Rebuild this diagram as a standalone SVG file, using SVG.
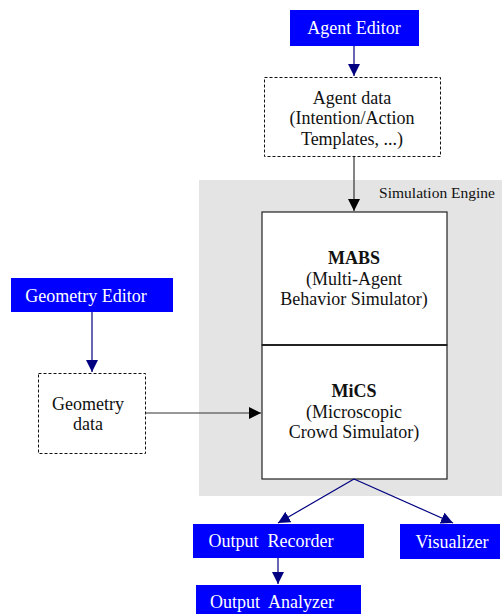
<svg xmlns="http://www.w3.org/2000/svg" width="502" height="614" viewBox="0 0 502 614" font-family="'Liberation Serif', 'DejaVu Serif', serif">
<defs>
<style>
text{font-family:'Liberation Serif','DejaVu Serif',serif;font-size:18px;text-anchor:middle;fill:#111;white-space:pre}
.tool rect{fill:#0000ff}
.tool text{fill:#fff}
.data rect{fill:#fff;stroke:#111;stroke-width:1;stroke-dasharray:3,2}
.eng rect{fill:#fff;stroke:#222;stroke-width:1.2}
.blue{stroke:#000080;stroke-width:1.2;fill:none}
.blk{stroke:#333;stroke-width:1.2;fill:none}
</style>
<marker id="ab" viewBox="0 0 10 10" refX="10" refY="5" markerWidth="12" markerHeight="12" markerUnits="userSpaceOnUse" orient="auto"><path d="M0,0L10,5L0,10z" fill="#000080"/></marker>
<marker id="ak" viewBox="0 0 10 10" refX="10" refY="5" markerWidth="12" markerHeight="12" markerUnits="userSpaceOnUse" orient="auto"><path d="M0,0L10,5L0,10z" fill="#000"/></marker>
</defs>
<rect id="engine-bg" x="199" y="180" width="303" height="316" fill="#e4e4e4"/>
<text x="437" y="198" style="font-size:15.5px">Simulation Engine</text>
<g id="agent-editor" class="tool"><rect x="290" y="10" width="129" height="36"/><text x="354" y="34">Agent Editor</text></g>
<g id="agent-data" class="data"><rect x="264.5" y="77.5" width="176" height="79"/><text x="352" y="104">Agent data</text><text x="352" y="124">(Intention/Action</text><text x="352" y="145">Templates, ...)</text></g>
<g id="mabs" class="eng"><rect x="262" y="212" width="185" height="133"/><text x="354" y="264" style="font-weight:bold">MABS</text><text x="354" y="285">(Multi-Agent</text><text x="354" y="305">Behavior Simulator)</text></g>
<g id="mics" class="eng"><rect x="262" y="345" width="185" height="134"/><text x="354" y="397" style="font-weight:bold">MiCS</text><text x="354" y="418">(Microscopic</text><text x="354" y="438">Crowd Simulator)</text></g>
<line x1="262" y1="345" x2="447" y2="345" stroke="#222" stroke-width="2"/>
<g id="geometry-editor" class="tool"><rect x="11" y="278" width="162" height="34"/><text x="86" y="302">Geometry Editor</text></g>
<g id="geometry-data" class="data"><rect x="38.5" y="373.5" width="107" height="80"/><text x="88" y="410">Geometry</text><text x="88" y="430">data</text></g>
<g id="output-recorder" class="tool"><rect x="193" y="524" width="171" height="34"/><text x="271" y="547">Output  Recorder</text></g>
<g id="visualizer" class="tool"><rect x="400" y="524" width="100" height="35"/><text x="452" y="548">Visualizer</text></g>
<g id="output-analyzer" class="tool"><rect x="196" y="585" width="165" height="29"/><text x="272" y="608">Output  Analyzer</text></g>
<g id="connectors">
<line class="blue" x1="354" y1="46" x2="354" y2="76" marker-end="url(#ab)"/>
<line class="blk" x1="354" y1="157" x2="354" y2="211" marker-end="url(#ak)"/>
<line class="blue" x1="92" y1="312" x2="92" y2="372" marker-end="url(#ab)"/>
<line class="blk" x1="146" y1="413" x2="261" y2="413" marker-end="url(#ak)"/>
<line class="blue" x1="354" y1="479" x2="278" y2="523" marker-end="url(#ab)"/>
<line class="blue" x1="354" y1="479" x2="453" y2="523" marker-end="url(#ab)"/>
<line class="blue" x1="278" y1="558" x2="278" y2="584" marker-end="url(#ab)"/>
</g>
</svg>
